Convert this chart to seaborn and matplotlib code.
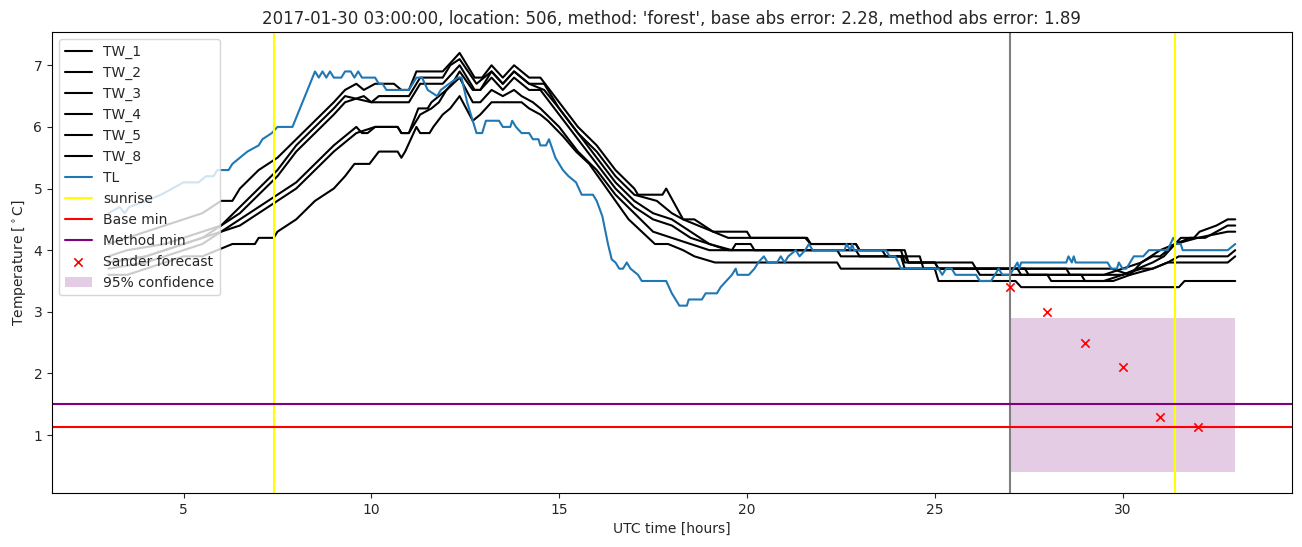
import numpy as np
import pandas as pd
import matplotlib
matplotlib.use("Agg")
import matplotlib.pyplot as plt
import seaborn as sns

# ---------------- data ----------------
tw1_t = [3.0, 3.5, 4.0, 4.5, 5.0, 5.5, 6.0, 6.3, 6.5, 7.0, 7.5, 8.0, 8.5, 9.0, 9.3, 9.6, 9.8, 10.1, 10.6, 10.8, 11.0,
         11.2, 11.9, 12.35, 12.75, 12.95, 13.2, 13.5, 13.8, 14.2, 14.5, 15.0, 15.5, 16.0, 16.5, 17.0, 17.1, 17.75,
         17.85, 18.3, 18.6, 19.1, 20.0, 20.1, 21.55, 21.7, 22.9, 23.0, 24.1, 24.2, 25.0, 25.1, 27.0, 29.7, 30.2,
         30.5, 30.8, 31.0, 31.4, 31.55, 31.9, 32.05, 32.5, 32.8, 33.0]
tw1_v = [4.1, 4.2, 4.3, 4.4, 4.5, 4.6, 4.8, 4.8, 5.0, 5.3, 5.5, 5.8, 6.1, 6.4, 6.6, 6.7, 6.6, 6.7, 6.7, 6.6, 6.6,
         6.9, 6.9, 7.2, 6.8, 6.8, 7.0, 6.8, 7.0, 6.8, 6.8, 6.4, 6.0, 5.7, 5.3, 5.0, 4.9, 4.9,
         5.0, 4.5, 4.5, 4.3, 4.3, 4.2, 4.2, 4.1, 4.1, 4.0, 4.0, 3.8, 3.8, 3.7, 3.7, 3.7, 3.6,
         3.8, 3.9, 3.9, 4.1, 4.2, 4.2, 4.3, 4.4, 4.5, 4.5]

tw2_t = [3.0, 3.5, 4.5, 5.0, 5.5, 6.0, 6.5, 7.0, 7.5, 8.0, 8.5, 9.0, 9.3, 10.0, 10.2, 11.0, 11.3, 11.9, 12.1, 12.35,
         12.8, 13.2, 13.5, 13.8, 14.2, 14.6, 15.0, 15.5, 16.0, 16.5, 17.0, 17.6, 18.0, 18.3, 18.7, 19.1, 19.5, 21.6,
         21.7, 22.9, 23.0, 24.2, 24.3, 26.0, 26.1, 28.5, 28.6, 30.0, 30.4, 30.8, 31.1, 31.4, 31.8, 32.2, 32.5,
         32.8, 33.0]
tw2_v = [3.9, 4.0, 4.1, 4.2, 4.3, 4.4, 4.7, 5.0, 5.3, 5.7, 6.0, 6.3, 6.5, 6.4, 6.5, 6.5, 6.8, 6.8, 7.0, 7.1,
         6.7, 6.9, 6.7, 6.9, 6.7, 6.7, 6.3, 5.9, 5.6, 5.2, 4.9, 4.8, 4.6, 4.5, 4.4, 4.3, 4.2, 4.2,
         4.1, 4.1, 4.0, 4.0, 3.8, 3.8, 3.7, 3.7, 3.6, 3.6, 3.7, 3.8, 3.9, 4.1, 4.2, 4.2, 4.3,
         4.4, 4.4]

tw3_t = [3.0, 4.0, 5.0, 5.5, 6.0, 6.5, 7.0, 7.5, 8.0, 8.5, 9.0, 9.3, 9.8, 10.0, 11.0, 11.3, 11.9, 12.35, 12.75,
         12.9, 13.2, 13.5, 13.8, 14.2, 14.6, 15.0, 15.5, 16.0, 16.5, 17.0, 17.5, 18.0, 18.5, 19.0, 19.6, 19.7,
         20.1, 20.2, 23.6, 23.7, 24.1, 24.2, 27.4, 27.5, 29.5, 30.0, 30.5, 31.0, 31.4, 32.0, 32.8, 33.0]
tw3_v = [3.8, 3.9, 4.1, 4.2, 4.4, 4.6, 4.9, 5.2, 5.6, 5.9, 6.2, 6.4, 6.5, 6.4, 6.4, 6.7, 6.7, 7.0, 6.6,
         6.6, 6.9, 6.7, 6.9, 6.7, 6.6, 6.3, 5.9, 5.5, 5.1, 4.8, 4.6, 4.5, 4.3, 4.1, 4.0, 4.1,
         4.1, 4.0, 4.0, 3.9, 3.9, 3.7, 3.7, 3.6, 3.6, 3.7, 3.8, 4.0, 4.1, 4.2, 4.3, 4.3]

tw4_t = [3.0, 4.0, 5.0, 5.5, 6.0, 6.5, 7.0, 7.5, 8.0, 8.5, 9.0, 9.4, 9.6, 9.75, 9.9, 10.1, 10.7, 10.8, 11.0,
         11.25, 11.5, 11.6, 11.8, 12.0, 12.15, 12.35, 12.7, 12.9, 13.2, 13.5, 13.8, 14.2, 14.5, 15.0, 15.5,
         16.0, 16.5, 17.0, 17.5, 18.0, 18.5, 19.0, 19.5, 22.4, 22.5, 24.2, 24.3, 25.0, 25.1, 27.2, 27.3, 28.9,
         29.0, 29.75, 30.2, 30.8, 31.2, 31.5, 32.8, 33.0]
tw4_v = [3.8, 3.9, 4.1, 4.2, 4.3, 4.5, 4.7, 4.9, 5.1, 5.4, 5.7, 5.9, 6.0, 5.9, 5.9, 6.0, 6.0, 5.9, 5.9,
         6.3, 6.3, 6.4, 6.5, 6.6, 6.7, 6.9, 6.6, 6.6, 6.8, 6.6, 6.8, 6.6, 6.6, 6.2, 5.8,
         5.4, 5.0, 4.7, 4.5, 4.4, 4.2, 4.1, 4.0, 4.0, 3.9, 3.9, 3.8, 3.8, 3.7, 3.7, 3.6, 3.6,
         3.5, 3.5, 3.6, 3.7, 3.8, 3.9, 3.9, 4.0]

tw5_t = [3.0, 4.0, 5.0, 5.5, 6.0, 6.5, 7.0, 7.5, 8.0, 8.5, 9.0, 9.4, 9.6, 10.1, 10.7, 10.8, 11.0, 11.3, 11.6,
         11.8, 12.0, 12.35, 12.7, 12.9, 13.2, 13.5, 13.8, 14.0, 14.3, 14.5, 15.0, 15.5, 16.0, 16.5, 17.0, 17.5,
         18.0, 18.5, 19.0, 22.9, 23.0, 24.6, 24.7, 26.1, 26.2, 28.0, 28.1, 29.5, 30.0, 30.5, 30.8, 31.2, 32.8, 33.0]
tw5_v = [3.7, 3.8, 4.0, 4.1, 4.3, 4.4, 4.6, 4.8, 5.0, 5.3, 5.6, 5.8, 5.9, 6.0, 6.0, 5.9, 5.9, 6.2, 6.3,
         6.4, 6.6, 6.8, 6.4, 6.4, 6.6, 6.5, 6.6, 6.5, 6.4, 6.3, 6.0, 5.6, 5.3, 4.9, 4.6, 4.3,
         4.2, 4.1, 4.0, 4.0, 3.9, 3.9, 3.7, 3.7, 3.6, 3.6, 3.5, 3.5, 3.6, 3.7, 3.7, 3.8, 3.8, 3.9]

tw8_t = [3.0, 3.5, 4.0, 4.5, 5.0, 5.5, 5.9, 6.3, 6.9, 7.0, 7.4, 7.5, 8.0, 8.5, 9.0, 9.3, 9.55, 9.95, 10.2, 10.7,
         10.8, 10.9, 11.2, 11.3, 11.55, 11.65, 11.9, 12.1, 12.35, 12.7, 12.9, 13.05, 13.2, 14.0, 14.2, 14.5, 14.7,
         15.1, 15.45, 15.8, 16.15, 16.5, 16.85, 17.2, 17.55, 17.9, 18.3, 18.6, 19.15, 22.4, 22.5, 25.0, 25.1,
         27.15, 27.3, 31.5, 31.65, 33.0]
tw8_v = [3.6, 3.6, 3.7, 3.8, 3.9, 3.9, 4.0, 4.1, 4.1, 4.2, 4.2, 4.3, 4.5, 4.8, 5.0, 5.2, 5.4, 5.4, 5.6, 5.6,
         5.5, 5.6, 6.0, 5.9, 5.9, 6.0, 6.2, 6.3, 6.5, 6.1, 6.2, 6.3, 6.4, 6.4, 6.3, 6.2, 6.1,
         5.85, 5.6, 5.4, 5.1, 4.8, 4.5, 4.3, 4.1, 4.1, 4.0, 3.9, 3.8, 3.8, 3.7, 3.7, 3.5,
         3.5, 3.4, 3.4, 3.5, 3.5]

tl_t = [3.0, 3.3, 3.43, 3.55, 4.0, 4.4, 4.7, 5.0, 5.4, 5.6, 5.8, 5.9, 6.2, 6.3, 6.5, 6.7, 7.0, 7.1, 7.35, 7.5,
        7.9, 8.5, 8.6, 8.7, 8.8, 8.9, 9.0, 9.2, 9.3, 9.45, 9.55, 9.65, 9.75, 10.1, 10.2, 10.3, 10.4, 11.0,
        11.2, 11.35, 11.5, 11.75, 11.85, 12.07, 12.3, 12.4, 12.55, 12.7, 12.8, 12.95, 13.05, 13.4, 13.5, 13.7,
        13.75, 13.85, 14.0, 14.2, 14.3, 14.45, 14.5, 14.65, 14.73, 14.9, 15.1, 15.25, 15.45, 15.6, 15.9, 16.0,
        16.15, 16.3, 16.4, 16.5, 16.6, 16.7, 16.8, 16.9, 17.1, 17.2, 17.85, 18.0, 18.2, 18.4, 18.45, 18.8,
        18.9, 19.2, 19.3, 19.6, 19.7, 19.75, 20.05, 20.2, 20.3, 20.45, 20.55, 20.8, 20.9, 21.0, 21.1, 21.3,
        21.4, 21.55, 21.65, 21.75, 22.6, 22.65, 22.75, 22.8, 22.85, 23.7, 23.8, 23.95, 24.1, 25.1, 25.2, 25.3,
        25.45, 25.55, 26.1, 26.2, 26.5, 26.6, 26.7, 26.8, 27.0, 27.1, 27.2, 27.25, 27.3, 28.5, 28.56, 28.65,
        28.7, 28.75, 29.6, 29.7, 29.85, 29.9, 30.0, 30.1, 30.2, 30.3, 30.55, 30.7, 31.2, 31.35, 31.45, 31.55,
        31.6, 32.8, 33.0]
tl_v = [4.6, 4.7, 4.6, 4.7, 4.8, 4.9, 5.0, 5.1, 5.1, 5.2, 5.2, 5.3, 5.3, 5.4, 5.5, 5.6, 5.7, 5.8, 5.9, 6.0,
        6.0, 6.9, 6.8, 6.9, 6.8, 6.9, 6.8, 6.8, 6.9, 6.9, 6.8, 6.9, 6.8, 6.8, 6.7, 6.7, 6.6, 6.6,
        6.8, 6.8, 6.6, 6.5, 6.6, 6.7, 6.8, 6.8, 6.4, 6.1, 5.9, 5.9, 6.1, 6.1, 6.0, 6.0,
        6.1, 6.0, 5.9, 5.9, 5.8, 5.8, 5.7, 5.7, 5.8, 5.5, 5.3, 5.2, 5.1, 4.9, 4.9, 4.8,
        4.55, 4.1, 3.85, 3.8, 3.7, 3.7, 3.8, 3.7, 3.6, 3.5, 3.5, 3.3, 3.1, 3.1, 3.2, 3.2,
        3.3, 3.3, 3.4, 3.6, 3.7, 3.6, 3.6, 3.7, 3.8, 3.9, 3.8, 3.8, 3.9, 3.8, 3.9, 4.0,
        3.9, 4.0, 4.1, 4.0, 4.0, 4.1, 4.0, 4.1, 4.0, 4.0, 3.9, 3.9, 3.7, 3.7, 3.6, 3.7,
        3.7, 3.6, 3.6, 3.5, 3.5, 3.6, 3.7, 3.6, 3.6, 3.7, 3.8, 3.7, 3.8, 3.8, 3.9, 3.8,
        3.9, 3.8, 3.8, 3.7, 3.7, 3.8, 3.7, 3.7, 3.8, 3.9, 3.9, 4.0, 4.0, 4.2, 4.1, 4.1,
        4.0, 4.0, 4.1]

series_names = ["TW_1", "TW_2", "TW_3", "TW_4", "TW_5", "TW_8"]
sunrise_hours = [7.4, 31.4]
forecast_start = 27.0
base_min = 1.13
method_min = 1.5
sander_hours = [27, 28, 29, 30, 31, 32]
sander_values = [3.4, 3.0, 2.5, 2.1, 1.3, 1.13]
conf_hours = [27.0, 33.0]
conf_low = 0.4
conf_high = 2.9

title = ("2017-01-30 03:00:00, location: 506, method: 'forest', "
         "base abs error: 2.28, method abs error: 1.89")

# ---------------- plot ----------------
sns.set_style("white")
plt.rcParams["font.family"] = ["DejaVu Sans"]
plt.rcParams["axes.edgecolor"] = "black"
plt.rcParams["xtick.bottom"] = True
plt.rcParams["ytick.left"] = True

fig, ax = plt.subplots(figsize=(13.02, 5.47), dpi=100)
fig.subplots_adjust(left=0.040, right=0.992, top=0.9415, bottom=0.0987)

tw_data = [(tw1_t, tw1_v), (tw2_t, tw2_v), (tw3_t, tw3_v),
           (tw4_t, tw4_v), (tw5_t, tw5_v), (tw8_t, tw8_v)]
for name, (t, v) in zip(series_names, tw_data):
    df = pd.DataFrame({"t": t, "v": v})
    sns.lineplot(data=df, x="t", y="v", color="black", label=name, ax=ax,
                 estimator=None, sort=False, linewidth=1.5)

df_tl = pd.DataFrame({"t": tl_t, "v": tl_v})
sns.lineplot(data=df_tl, x="t", y="v", color="#1f77b4", label="TL", ax=ax,
             estimator=None, sort=False, linewidth=1.5)

for i, s in enumerate(sunrise_hours):
    ax.axvline(s, color="yellow", label="sunrise" if i == 0 else None, linewidth=1.5)
ax.axvline(forecast_start, color="gray", linewidth=1.5)
ax.axhline(base_min, color="red", label="Base min", linewidth=1.5)
ax.axhline(method_min, color="purple", label="Method min", linewidth=1.5)

sns.scatterplot(x=sander_hours, y=sander_values, marker="x", color="red",
                label="Sander forecast", ax=ax, s=36, linewidth=1.2, zorder=3)

ax.fill_between(conf_hours, [conf_low] * 2, [conf_high] * 2, color="purple",
                alpha=0.2, linewidth=0, label="95% confidence", zorder=0.5)

ax.set_title(title, fontsize=12)
ax.set_xlabel("UTC time [hours]")
ax.set_ylabel(r"Temperature [$^\circ$C]")
ax.set_xticks([5, 10, 15, 20, 25, 30])
ax.set_yticks([1, 2, 3, 4, 5, 6, 7])
ax.margins(x=0.05, y=0.05)
ax.legend(loc="upper left", framealpha=0.8)

fig.savefig("out.png", dpi=100)
